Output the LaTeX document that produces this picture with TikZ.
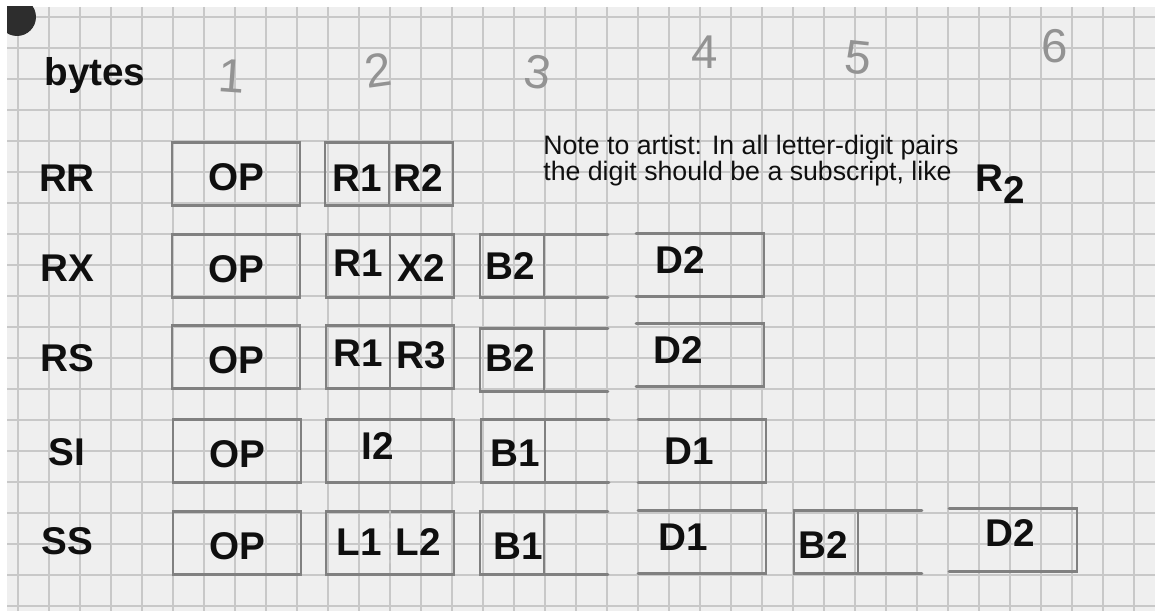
\documentclass[tikz,border=0pt]{standalone}
\usepackage{fontspec}
\setmainfont{Liberation Sans}
\usetikzlibrary{positioning}
\definecolor{paper}{RGB}{239,239,239}
\definecolor{gridln}{RGB}{200,200,200}
\definecolor{pencil}{RGB}{128,128,128}
\definecolor{ink}{RGB}{15,15,15}
\definecolor{hole}{RGB}{45,45,45}

\begin{document}
\begin{tikzpicture}[x=0.02cm, y=-0.02cm,
    lbl/.style={font=\fontsize{22}{24}\selectfont\bfseries, text=ink, inner sep=0pt},
    cellbox/.style={minimum width=2.56cm, minimum height=1.26cm, inner sep=0pt, outer sep=0pt},
    framed/.style={cellbox, draw=pencil, line width=1.5pt},
    pen/.style={draw=pencil, line width=1.5pt, line cap=round},
    digit/.style={font=\fontsize{27}{27}\selectfont, text=pencil!85, inner sep=0pt},
    note/.style={font=\fontsize{15.2}{15}\selectfont, text=ink, align=left, inner sep=0pt}
]
\useasboundingbox (0,0) rectangle (1155,611);

% Graph paper
\fill[white] (0,0) rectangle (1155,611);
\fill[paper] (7,7) rectangle (1155,611);
\foreach \i in {0,...,37} \draw[gridln, line width=0.7pt] ({18+31*\i},7) -- ({18+31*\i},611);
\foreach \j in {0,...,19} \draw[gridln, line width=0.7pt] (7,{17+31*\j}) -- (1155,{17+31*\j});
\begin{scope}
  \clip (7,7) rectangle (80,80);
  \fill[hole] (17,17) circle (0.38cm);
\end{scope}

% Byte header
\node[lbl] (bytes) at (95,76) {bytes};
\node[digit, rotate=-4] (b1) at (232,76) {1};
\node[digit, rotate=8] (b2) at (378,70) {2};
\node[digit, rotate=-8] (b3) at (538,72) {3};
\node[digit] (b4) at (705,52) {4};
\node[digit, rotate=-6] (b5) at (858,58) {5};
\node[digit] (b6) at (1055,46) {6};

% Note
\node[note, anchor=west] (note1) at (543,148) {Note to artist: In all letter-digit pairs};
\node[note, anchor=west] (note2) at (543,174) {the digit should be a subscript, like};
\node[lbl, anchor=west] (sub) at (975,184) {R\raisebox{-0.6ex}{2}};

% RR
\node[lbl] (rr) at (67,178) {RR};
\node[framed] (rrop) at (236,174) {};
\node[lbl] at (rrop.center) [yshift=-2pt] {OP};
\node[framed] (rrf) at (389,174) {};
\draw[pen] (rrf.north) -- (rrf.south);
\node[lbl] (rr1) at (357,178) {R1};
\node[lbl] (rr2) at (418,178) {R2};

% RX
\node[lbl] (rx) at (67,268) {RX};
\node[framed] (rxop) at (236,266) {};
\node[lbl] at (rxop.center) [yshift=-2pt] {OP};
\node[framed] (rxf) at (390,266) {};
\draw[pen] (rxf.north) -- (rxf.south);
\node[lbl] (rx1) at (358,263) {R1};
\node[lbl] (rx2) at (421,268) {X2};
\node[cellbox] (rxb) at (544,266) {};
\draw[pen] (rxb.north east) -- (rxb.north west) -- (rxb.south west) -- (rxb.south east);
\draw[pen] (rxb.north) -- (rxb.south);
\node[lbl] (rxbb) at (510,266) {B2};
\node[cellbox] (rxd) at (700,265) {};
\draw[pen] (rxd.north west) -- (rxd.north east) -- (rxd.south east) -- (rxd.south west);
\node[lbl] (rxdd) at (680,260) {D2};

% RS
\node[lbl] (rs) at (67,358) {RS};
\node[framed] (rsop) at (236,357) {};
\node[lbl] at (rsop.center) [yshift=-2pt] {OP};
\node[framed] (rsf) at (390,357) {};
\draw[pen] (rsf.north) -- (rsf.south);
\node[lbl] (rs1) at (358,353) {R1};
\node[lbl] (rs3) at (421,355) {R3};
\node[cellbox] (rsb) at (544,360) {};
\draw[pen] (rsb.north east) -- (rsb.north west) -- (rsb.south west) -- (rsb.south east);
\draw[pen] (rsb.north) -- (rsb.south);
\node[lbl] (rsbb) at (510,358) {B2};
\node[cellbox] (rsd) at (700,355) {};
\draw[pen] (rsd.north west) -- (rsd.north east) -- (rsd.south east) -- (rsd.south west);
\node[lbl] (rsdd) at (678,350) {D2};

% SI
\node[lbl] (si) at (67,452) {SI};
\node[framed] (siop) at (237,451) {};
\node[lbl] at (siop.center) [yshift=-2pt] {OP};
\node[framed] (sif) at (390,451) {};
\node[lbl] (sii) at (378,446) {I2};
\node[cellbox] (sib) at (545,451) {};
\draw[pen] (sib.north east) -- (sib.north west) -- (sib.south west) -- (sib.south east);
\draw[pen] (sib.north) -- (sib.south);
\node[lbl] (sibb) at (515,453) {B1};
\node[cellbox] (sid) at (702,451) {};
\draw[pen] (sid.north west) -- (sid.north east) -- (sid.south east) -- (sid.south west);
\node[lbl] (sidd) at (689,451) {D1};

% SS
\node[lbl] (ss) at (67,541) {SS};
\node[framed] (ssop) at (237,543) {};
\node[lbl] at (ssop.center) [yshift=-2pt] {OP};
\node[framed] (ssf) at (390,543) {};
\draw[pen, dashed, pencil!50] (ssf.north) -- (ssf.south);
\node[lbl] (ssl1) at (359,542) {L1};
\node[lbl] (ssl2) at (418,542) {L2};
\node[cellbox] (ssb) at (544,543) {};
\draw[pen] (ssb.north east) -- (ssb.north west) -- (ssb.south west) -- (ssb.south east);
\draw[pen] (ssb.north) -- (ssb.south);
\node[lbl] (ssbb) at (518,546) {B1};
\node[cellbox] (ssd) at (702,542) {};
\draw[pen] (ssd.north west) -- (ssd.north east) -- (ssd.south east) -- (ssd.south west);
\node[lbl] (ssdd) at (683,537) {D1};
\node[cellbox] (ssb2) at (858,542) {};
\draw[pen] (ssb2.north east) -- (ssb2.north west) -- (ssb2.south west) -- (ssb2.south east);
\draw[pen] (ssb2.north) -- (ssb2.south);
\node[lbl] (ssbb2) at (823,545) {B2};
\node[cellbox] (ssd2) at (1013,540) {};
\draw[pen] (ssd2.north west) -- (ssd2.north east) -- (ssd2.south east) -- (ssd2.south west);
\node[lbl] (ssdd2) at (1010,533) {D2};

\end{tikzpicture}
\end{document}
